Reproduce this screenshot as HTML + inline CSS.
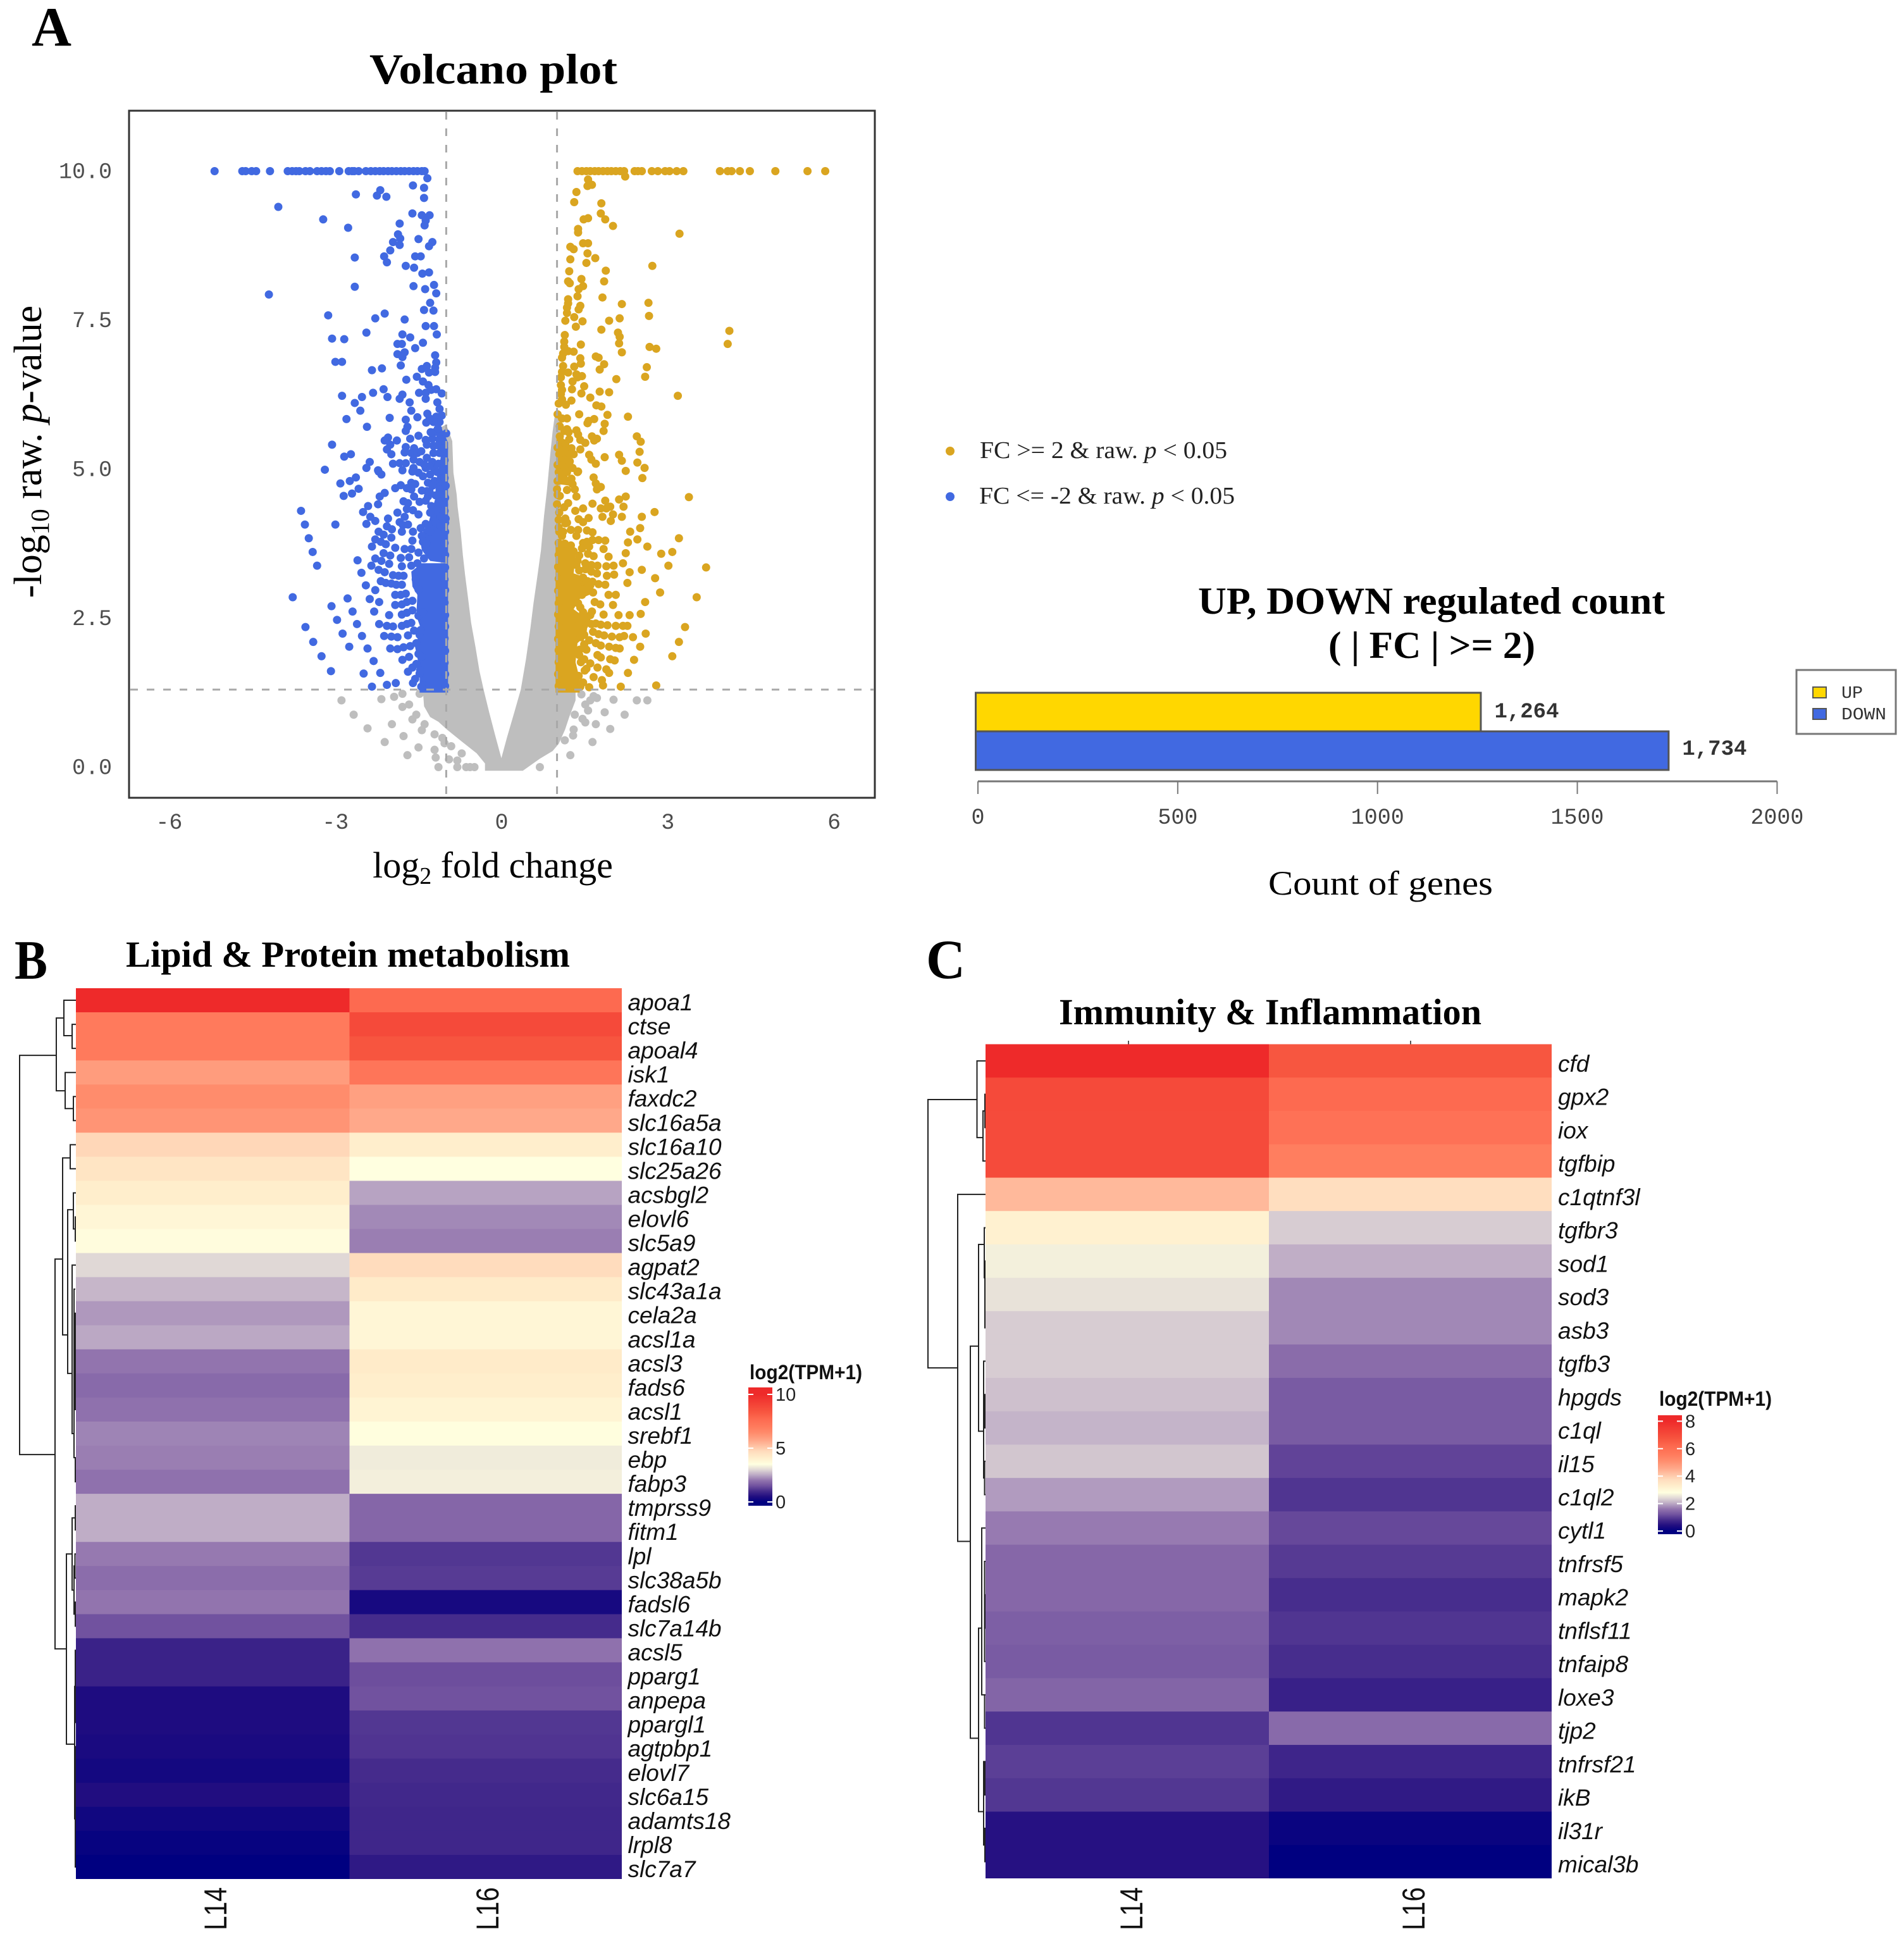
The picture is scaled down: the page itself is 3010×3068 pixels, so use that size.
<!DOCTYPE html>
<html lang="en">
<head>
<meta charset="utf-8">
<title>Volcano plot and heatmaps</title>
<style>
html,body{margin:0;padding:0;background:#fff}
svg{display:block}
.serif{font-family:"Liberation Serif",serif}
.sans{font-family:"Liberation Sans",sans-serif}
.mono{font-family:"Liberation Mono",monospace}
</style>
</head>
<body>
<svg id="figure" xmlns="http://www.w3.org/2000/svg" width="3010" height="3068" viewBox="0 0 3010 3068">
<rect x="0" y="0" width="3010" height="3068" fill="#fff"/>
<defs id="defs"></defs>

<text class="serif" x="50" y="72" font-size="88" font-weight="bold" textLength="63" lengthAdjust="spacingAndGlyphs">A</text>
<text class="serif" x="584" y="132" font-size="68" font-weight="bold" textLength="392" lengthAdjust="spacingAndGlyphs">Volcano plot</text>

<g id="volcano"></g>
<rect x="204" y="175" width="1179" height="1086" fill="none" stroke="#333" stroke-width="3"/>
<g id="volcano-axes"></g>

<text class="serif" transform="translate(65,714) rotate(-90)" text-anchor="middle" font-size="62">-log<tspan font-size="41" dy="12">10</tspan><tspan dy="-12"> raw. </tspan><tspan font-style="italic">p</tspan>-value</text>
<text class="serif" x="779" y="1387" text-anchor="middle" font-size="58">log<tspan font-size="38" dy="10">2</tspan><tspan dy="-10"> fold change</tspan></text>

<g>
  <circle cx="1502" cy="713" r="7" fill="#daa520"/>
  <text class="serif" x="1549" y="724" font-size="38" fill="#222" textLength="391" lengthAdjust="spacingAndGlyphs">FC &gt;= 2 &amp; raw. <tspan font-style="italic">p</tspan> &lt; 0.05</text>
  <circle cx="1502" cy="785" r="7" fill="#4169e1"/>
  <text class="serif" x="1548" y="796" font-size="38" fill="#222" textLength="404" lengthAdjust="spacingAndGlyphs">FC &lt;= -2 &amp; raw. <tspan font-style="italic">p</tspan> &lt; 0.05</text>
</g>

<text class="serif" x="1894" y="970" font-size="60" font-weight="bold" textLength="738" lengthAdjust="spacingAndGlyphs">UP, DOWN regulated count</text>
<text class="serif" x="2100" y="1040" font-size="60" font-weight="bold" textLength="327" lengthAdjust="spacingAndGlyphs">( | FC | &gt;= 2)</text>
<g id="bars"></g>
<text class="serif" x="2005" y="1414" font-size="54" textLength="355" lengthAdjust="spacingAndGlyphs">Count of genes</text>
<g>
  <rect x="2840" y="1059" width="157" height="101" fill="#fff" stroke="#777" stroke-width="3"/>
  <rect x="2866" y="1086" width="21" height="17" fill="#ffd700" stroke="#555" stroke-width="2"/>
  <text class="mono" x="2911" y="1103" font-size="27" fill="#333" textLength="34" lengthAdjust="spacingAndGlyphs">UP</text>
  <rect x="2866" y="1120" width="21" height="17" fill="#4169e1" stroke="#555" stroke-width="2"/>
  <text class="mono" x="2911" y="1137" font-size="27" fill="#333" textLength="71" lengthAdjust="spacingAndGlyphs">DOWN</text>
</g>

<text class="serif" x="23" y="1547" font-size="88" font-weight="bold" textLength="52" lengthAdjust="spacingAndGlyphs">B</text>
<text class="serif" x="199" y="1528" font-size="58" font-weight="bold" textLength="702" lengthAdjust="spacingAndGlyphs">Lipid &amp; Protein metabolism</text>
<g id="heat-b"></g>

<text class="serif" x="1464" y="1546" font-size="88" font-weight="bold" textLength="62" lengthAdjust="spacingAndGlyphs">C</text>
<text class="serif" x="1674" y="1619" font-size="58" font-weight="bold" textLength="668" lengthAdjust="spacingAndGlyphs">Immunity &amp; Inflammation</text>
<line x1="1784" y1="1645" x2="1784" y2="1651" stroke="#555" stroke-width="2"/>
<line x1="2230" y1="1645" x2="2230" y2="1651" stroke="#555" stroke-width="2"/>
<g id="heat-c"></g>
</svg>

<script>
/* ---------- Volcano data: log2 fold change / -log10 p ---------- */
const cappedLog10P = 10;
const downCappedFC = [-5.18,-4.68,-4.62,-4.51,-4.43,-4.18,-3.86,-3.78,-3.71,-3.65,-3.54,-3.46,-3.33,-3.25,-3.17,-3.10,-2.93,-2.76,-2.70,-2.66,-2.58,-2.45,-2.36,-2.28,-2.20,-2.13,-2.05,-1.98,-1.90,-1.82,-1.75,-1.67,-1.59,-1.52,-1.44,-1.39];
const upCappedFC = [1.37,1.45,1.53,1.60,1.68,1.75,1.83,1.91,1.98,2.06,2.14,2.21,2.40,2.46,2.53,2.71,2.82,2.95,3.03,3.16,3.28,3.94,4.08,4.15,4.30,4.48,4.94,5.52,5.84];
const downPoints = [
[-1.34,9.88],[-1.60,9.76],[-1.40,9.72],[-2.19,9.68],[-2.25,9.59],[-2.08,9.57],[-2.63,9.61],[-1.40,9.55],[-4.03,9.40],[-1.61,9.29],[-1.44,9.26],[-1.30,9.26],[-1.37,9.17],[-3.22,9.19],[-1.84,9.12],[-1.39,9.09],[-2.77,9.05],[-1.87,8.94],[-1.83,8.87],[-1.50,8.86],[-1.96,8.81],[-1.25,8.81],[-1.84,8.76],[-1.31,8.74],[-2.01,8.67],[-2.12,8.57],[-1.56,8.57],[-1.46,8.57],[-2.65,8.55],[-2.07,8.47],[-1.73,8.41],[-1.58,8.38],[-1.43,8.28],[-1.31,8.30],[-1.59,8.07],[-1.22,8.09],[-2.65,8.06],[-1.38,8.02],[-1.18,7.95],[-4.20,7.93],[-1.29,7.79],[-1.40,7.67],[-1.23,7.66],[-3.13,7.58],[-2.11,7.61],[-2.28,7.53],[-1.75,7.51],[-1.37,7.40],[-1.22,7.40],[-1.17,7.26],[-2.44,7.29],[-3.06,7.19],[-2.84,7.18],[-1.79,7.26],[-1.65,7.21],[-1.88,7.10],[-1.80,7.10],[-1.42,7.12],[-1.56,7.03],[-1.75,6.96],[-1.88,6.93],[-1.79,6.88],[-1.20,6.91],[-3.00,6.80],[-2.88,6.80],[-1.82,6.74],[-1.18,6.79],[-1.44,6.68],[-1.35,6.73],[-2.34,6.66],[-2.16,6.69],[-1.31,6.62],[-1.20,6.63],[-1.20,6.70],[-1.72,6.50],[-1.53,6.55],[-1.42,6.47],[-1.32,6.41],[-2.13,6.34],[-2.32,6.28],[-2.88,6.23],[-2.52,6.21],[-2.06,6.21],[-2.65,6.11],[-1.79,6.25],[-1.84,6.18],[-1.49,6.28],[-1.37,6.28],[-1.37,6.18],[-1.27,6.33],[-1.18,6.34],[-1.08,6.27],[-1.66,6.12],[-1.16,6.12],[-2.55,5.98],[-1.63,5.98],[-1.12,6.01],[-1.52,5.87],[-1.34,5.93],[-1.08,5.90],[-1.18,5.88],[-2.02,5.86],[-2.80,5.84],[-1.73,5.83],[-1.12,5.79],[-1.23,5.79],[-1.36,5.78],[-2.43,5.71],[-1.70,5.71],[-1.73,5.64],[-1.00,5.60],[-1.21,5.62],[-1.50,5.56],[-1.65,5.51],[-2.05,5.53],[-1.89,5.48],[-2.11,5.48],[-1.37,5.49],[-1.25,5.51],[-1.12,5.51],[-3.06,5.41],[-2.01,5.41],[-1.23,5.39],[-1.35,5.41],[-1.73,5.37],[-1.58,5.35],[-2.07,5.33],[-2.72,5.25],[-2.84,5.21],[-1.99,5.25],[-1.75,5.28],[-1.63,5.27],[-1.52,5.27],[-1.12,5.27],[-1.23,5.27],[-1.35,5.19],[-1.59,5.16],[-1.48,5.12],[-2.38,5.12],[-1.96,5.09],[-1.84,5.10],[-1.73,5.10],[-1.25,5.12],[-1.14,5.09],[-2.44,5.02],[-2.23,4.98],[-3.19,4.99],[-1.59,5.02],[-1.37,5.02],[-1.21,5.00],[-1.06,5.02],
[-2.91,4.76],[-2.74,4.80],[-2.63,4.86],[-2.58,4.67],[-2.70,4.59],[-2.85,4.55],[-2.22,4.96],[-2.17,4.91],[-1.50,4.94],[-1.61,4.96],[-1.79,4.98],[-1.29,4.91],[-1.16,4.95],[-1.06,4.98],[-1.21,4.80],[-1.33,4.77],[-1.10,4.84],[-1.01,4.72],[-1.63,4.77],[-1.56,4.75],[-1.82,4.73],[-1.92,4.68],[-1.71,4.68],[-1.63,4.66],[-1.44,4.64],[-1.35,4.63],[-1.12,4.66],[-1.04,4.56],[-1.19,4.56],[-1.33,4.54],[-2.11,4.60],[-2.20,4.54],[-2.23,4.41],[-1.58,4.54],[-1.48,4.45],[-1.37,4.47],[-1.77,4.46],[-1.69,4.43],[-2.41,4.38],[-2.50,4.28],[-3.62,4.30],[-1.88,4.27],[-1.71,4.33],[-1.60,4.31],[-1.50,4.24],[-1.27,4.38],[-1.12,4.45],[-1.04,4.40],[-1.18,4.31],[-1.29,4.27],[-1.10,4.20],[-1.01,4.17],[-2.37,4.20],[-2.28,4.13],[-2.44,4.08],[-2.05,4.17],[-1.75,4.20],[-1.84,4.11],[-1.69,4.07],[-1.78,4.06],[-3.55,4.07],[-3.00,4.07],[-2.07,4.04],[-1.98,3.99],[-1.80,3.95],[-1.60,3.95],[-1.46,4.01],[-1.37,4.08],[-1.19,4.10],[-1.10,4.04],[-1.02,4.10],[-2.22,3.95],[-2.13,3.90],[-1.99,3.85],[-3.48,3.84],[-2.28,3.82],[-2.18,3.78],[-2.09,3.74],[-1.61,3.80],[-1.44,3.88],[-1.42,3.78],[-1.29,3.95],[-2.34,3.70],[-1.92,3.68],[-1.75,3.66],[-1.63,3.66],[-3.41,3.61],[-2.13,3.59],[-2.01,3.55],[-2.28,3.50],[-2.17,3.46],[-2.03,3.41],[-1.82,3.51],[-1.67,3.52],[-2.60,3.47],[-1.52,3.42],[-3.33,3.38],[-2.35,3.38],[-1.80,3.37],[-1.63,3.38],[-2.22,3.31],[-2.11,3.27],[-2.53,3.26],[-1.96,3.22],[-1.86,3.21],[-1.77,3.21],
[-2.18,3.12],[-2.09,3.09],[-1.99,3.08],[-1.90,3.06],[-1.80,3.06],[-2.45,3.05],[-2.28,2.97],[-1.92,2.89],[-1.82,2.89],[-1.73,2.91],[-3.77,2.85],[-2.78,2.83],[-2.38,2.82],[-2.21,2.77],[-3.07,2.70],[-1.92,2.72],[-1.80,2.73],[-1.71,2.77],[-1.61,2.79],[-2.69,2.61],[-2.30,2.61],[-2.03,2.55],[-1.80,2.56],[-1.71,2.59],[-1.61,2.63],[-1.50,2.54],[-2.97,2.47],[-2.61,2.40],[-2.21,2.40],[-2.07,2.37],[-1.96,2.36],[-1.80,2.37],[-1.71,2.40],[-1.63,2.42],[-3.54,2.35],[-2.87,2.24],[-2.52,2.20],[-2.12,2.20],[-1.99,2.19],[-1.88,2.18],[-1.69,2.21],[-1.58,2.29],[-1.48,2.22],[-3.40,2.10],[-2.75,2.02],[-2.42,1.99],[-2.01,1.99],[-1.88,1.98],[-1.77,2.01],[-1.65,2.03],[-1.54,2.08],[-3.25,1.86],[-1.79,1.80],[-1.67,1.85],[-1.50,1.90],[-2.31,1.78],[-1.69,1.60],[-1.61,1.67],[-1.54,1.73],[-3.08,1.61],[-2.49,1.57],[-2.19,1.58],[-1.48,1.57],[-1.56,1.48],[-1.60,1.41],[-1.40,1.37],[-1.91,1.41],[-2.07,1.38],[-2.34,1.35],
[-1.02,1.36],[-1.02,1.56],[-1.03,1.75],[-1.02,1.95],[-1.03,2.16],[-1.02,2.36],[-1.02,2.55],[-1.03,2.76],[-1.02,2.97],[-1.03,3.15],[-1.02,3.35],[-1.02,3.56],[-1.03,3.76],[-1.02,3.95],[-1.03,4.30],[-1.02,4.52],[-1.03,4.85],[-1.03,5.15],[-1.04,5.35],
[-1.45,1.35],[-1.47,1.62],[-1.44,1.85],[-1.46,2.30],[-1.42,2.60],[-1.50,2.98],[-1.55,3.15],[-1.40,3.50],[-1.50,3.60],[-1.36,3.75],[-1.30,4.62],[-1.25,4.72],[-1.42,4.88],[-1.30,5.05],[-1.45,5.30],[-1.40,5.08],[-1.15,5.40],[-1.28,5.62],[-1.15,5.68],[-1.30,5.85]
];
const upPoints = [
[2.23,9.91],[1.56,9.86],[1.63,9.77],[1.55,9.75],[1.35,9.65],[1.31,9.48],[1.80,9.46],[1.79,9.29],[1.87,9.19],[2.01,9.08],[1.56,9.21],[1.48,9.19],[1.38,9.03],[1.38,8.97],[3.21,8.95],[1.47,8.79],[1.56,8.79],[1.24,8.73],[1.30,8.69],[1.55,8.62],[1.69,8.54],[1.24,8.52],[1.53,8.46],[2.72,8.41],[1.22,8.32],[1.88,8.33],[1.44,8.19],[1.85,8.15],[1.20,8.15],[1.23,8.12],[1.47,8.07],[1.39,8.02],[1.37,7.90],[1.20,7.85],[1.82,7.88],[2.17,7.77],[2.65,7.79],[1.20,7.78],[1.18,7.71],[1.42,7.74],[1.39,7.68],[1.18,7.62],[1.31,7.55],[2.66,7.57],[2.13,7.53],[1.15,7.49],[1.46,7.48],[1.94,7.49],[1.34,7.39],[1.80,7.34],[4.11,7.32],[1.14,7.25],[2.10,7.29],[2.13,7.22],[2.12,7.11],[4.08,7.10],[1.43,7.09],[1.13,7.14],[1.13,7.05],[2.67,7.05],[2.79,7.02],[1.20,6.98],[1.30,6.97],[2.17,6.96],[1.11,6.94],[1.70,6.89],[1.75,6.87],[1.42,6.86],[1.09,6.87],[1.43,6.77],[1.85,6.76],[1.11,6.73],[1.31,6.72],[2.62,6.71],[1.77,6.67],[1.09,6.63],[1.20,6.62],[1.35,6.59],[1.45,6.56],[1.37,6.54],[2.59,6.55],[2.07,6.51],[1.07,6.54],[1.28,6.47],[1.07,6.41],[1.49,6.39],[1.27,6.34],[1.09,6.33],[1.77,6.30],[1.94,6.29],[1.44,6.27],[1.07,6.26],[3.18,6.23],[1.60,6.20],[1.26,6.15],[1.09,6.17],[1.16,6.08],[1.03,6.10],[1.71,6.07],[1.80,6.05],[1.01,5.92],[1.40,5.92],[1.91,5.91],[2.28,5.88],[1.18,5.85],[1.09,5.85],[1.67,5.84],[1.57,5.81],[1.55,5.77],[1.86,5.76],[1.05,5.72],[1.18,5.67],[1.84,5.64],[1.35,5.65],[1.21,5.62],[1.13,5.64],[1.38,5.58],[1.63,5.55],[2.44,5.55],[1.72,5.51],[1.67,5.48],[1.42,5.49],[2.51,5.46],[1.51,5.44],[1.07,5.46],[1.15,5.42],[1.26,5.35],[1.01,5.36],[1.42,5.33],[1.13,5.32],[2.49,5.29],[1.58,5.24],[1.86,5.20],[2.12,5.24],[1.09,5.19],[1.62,5.16],[2.17,5.14],[1.23,5.13],[2.45,5.11],[1.70,5.09],[1.01,5.07],[1.11,5.07],[2.58,5.02],[1.28,5.02],[1.38,4.96],[2.24,4.97],
[1.18,4.95],[1.37,4.95],[1.11,4.84],[1.26,4.84],[1.01,4.80],[1.66,4.86],[2.54,4.85],[1.70,4.76],[1.79,4.70],[1.72,4.66],[1.32,4.66],[1.00,4.66],[1.35,4.54],[1.01,4.57],[2.24,4.54],[3.38,4.53],[2.12,4.49],[1.87,4.47],[1.64,4.42],[1.20,4.43],[1.00,4.41],[1.13,4.36],[2.20,4.37],[1.96,4.37],[1.79,4.34],[1.89,4.34],[1.47,4.34],[1.33,4.30],[2.76,4.28],[1.04,4.27],[2.01,4.24],[1.82,4.20],[2.17,4.20],[2.53,4.20],[1.57,4.18],[1.39,4.16],[1.15,4.17],[1.97,4.13],[1.47,4.11],[1.15,4.09],[1.03,4.02],[2.50,4.01],[1.38,3.98],[1.54,3.97],[1.64,3.94],[2.32,3.95],[1.11,3.95],[1.35,3.88],[1.09,3.88],[3.20,3.84],[2.45,3.82],[1.64,3.81],[1.75,3.81],[1.87,3.80],[1.54,3.78],[2.28,3.77],[1.47,3.76],[2.63,3.70],[1.45,3.67],[1.58,3.70],[1.84,3.66],[2.24,3.59],[3.08,3.61],[2.88,3.58],[1.56,3.58],[1.66,3.54],[1.93,3.53],[2.19,3.42],[3.01,3.38],[1.37,3.46],[1.35,3.39],[1.51,3.42],[1.62,3.39],[1.73,3.38],[1.89,3.37],[2.02,3.38],[3.69,3.35],[2.53,3.31],[2.31,3.27],[1.51,3.32],[1.62,3.28],[1.72,3.25],[1.90,3.21],[2.03,3.23],[2.77,3.17],[1.47,3.18],[1.64,3.11],[1.75,3.07],[1.87,3.06],[2.27,3.09],[1.49,3.05],[1.56,3.00],[1.65,2.93],[2.86,2.93],[1.93,2.89],[2.06,2.89],[3.52,2.85],[1.45,2.89],[1.68,2.77],[1.78,2.73],[2.59,2.77],[2.01,2.72],[1.42,2.68],[1.63,2.61],[1.84,2.56],[2.11,2.55],[2.31,2.55],[2.51,2.57],[1.49,2.54],[1.53,2.47],[1.70,2.41],[1.79,2.39],[1.91,2.38],[2.06,2.37],[2.19,2.37],[2.27,2.37],[3.31,2.35],[1.49,2.38],[1.65,2.27],[1.75,2.23],[1.85,2.21],[1.99,2.19],[2.13,2.18],[2.21,2.20],[2.37,2.18],[2.60,2.24],[1.49,2.22],[3.20,2.10],[1.58,2.13],[1.70,2.08],[1.79,2.04],[1.94,2.02],[2.06,2.00],[2.13,1.99],[2.50,2.02],[1.49,2.06],[1.53,1.97],[1.73,1.88],[1.79,1.84],[1.96,1.81],[2.04,1.79],[2.39,1.80],[3.08,1.86],[1.41,1.97],[1.49,1.81],[1.60,1.74],[1.73,1.67],[1.89,1.64],[1.94,1.58],[2.28,1.58],[1.43,1.76],[1.53,1.65],[1.66,1.51],[1.81,1.46],[1.83,1.37],[2.15,1.35],[2.79,1.37],[1.58,1.34],[1.47,1.42],[1.39,1.53],[1.36,1.34],
[1.03,1.36],[1.02,1.56],[1.03,1.76],[1.03,1.96],[1.02,2.15],[1.03,2.36],[1.02,2.56],[1.03,2.75],[1.02,2.96],[1.03,3.16],[1.02,3.36],[1.03,3.56],[1.03,3.76],[1.04,3.95],[1.03,4.15],[1.05,4.55],[1.03,4.95],[1.04,5.25],[1.05,5.55],
[1.18,4.10],[1.25,3.98],[1.14,3.75],[1.25,3.72],[1.30,3.62],[1.40,3.55],[1.40,3.30],[1.55,3.12],[1.60,3.05],[1.46,2.98],[1.38,2.75],[1.47,2.60],[1.40,2.42],[1.60,2.55],[1.62,2.40],[1.43,2.18],[1.40,1.88],[1.50,1.62],[1.42,1.35],[1.18,4.65],[1.28,4.75],[1.20,5.15],[1.30,5.25],[1.22,5.50]
];
const nsPoints = [
[-2.89,1.12],[-2.17,1.14],[-1.94,1.18],[-1.79,1.23],[-1.48,1.23],[-1.67,1.05],[-1.79,1.01],[-2.67,0.88],[-1.54,0.88],[-1.61,0.80],[-1.98,0.72],[-1.39,0.72],[-1.44,0.62],[-2.42,0.65],[-1.21,0.55],[-1.77,0.52],[-1.07,0.49],[-2.11,0.42],[-1.03,0.40],[-0.91,0.35],[-1.50,0.33],[-1.21,0.29],[-0.72,0.23],[-1.70,0.20],[-1.19,0.16],[-0.95,0.13],[-0.80,0.11],[-1.14,0],[-0.80,0],[-0.64,0],[-0.57,0],[-0.49,0],
[1.44,1.22],[1.66,1.19],[1.72,1.16],[1.60,1.12],[1.51,1.05],[1.56,0.95],[2.02,1.13],[2.44,1.12],[2.63,1.12],[1.86,0.92],[2.22,0.88],[1.32,0.88],[1.46,0.81],[1.51,0.75],[1.70,0.72],[1.96,0.64],[1.30,0.63],[1.29,0.53],[1.14,0.45],[1.64,0.42],[1.24,0.20],[0.69,0],[1.10,0.95],[1.18,1.08]
];
/* Solid density regions where individual dots are no longer separable */
const nsEnvelope = [[-1.0,5.75],[-0.89,5.47],[-0.87,4.94],[-0.81,4.57],[-0.795,4.37],[-0.74,3.97],[-0.70,3.56],[-0.66,3.23],[-0.605,2.83],[-0.55,2.42],[-0.47,2.01],[-0.40,1.61],[-0.32,1.28],[-0.225,0.92],[-0.11,0.51],[-0.004,0.15],[0.10,0.51],[0.23,0.92],[0.346,1.30],[0.44,1.81],[0.52,2.34],[0.575,2.75],[0.65,3.23],[0.71,3.64],[0.765,4.21],[0.82,4.66],[0.88,5.27],[0.92,5.63],[0.955,5.87],[1.05,5.87],[1.1,1.3],[1.335,1.3],[1.335,1.12],[1.22,0.84],[1.145,0.63],[1.03,0.39],[0.92,0.27],[0.69,0.14],[0.384,-0.06],[-0.30,-0.06],[-0.30,0.06],[-0.45,0.23],[-0.72,0.43],[-0.985,0.63],[-1.14,0.76],[-1.29,0.84],[-1.40,1.02],[-1.42,1.27],[-1.1,1.3],[-1.1,5.7]];
const downDenseLower = [[-0.967,1.25],[-0.967,3.42],[-1.44,3.42],[-1.63,3.28],[-1.61,3.03],[-1.52,2.89],[-1.54,2.54],[-1.46,2.33],[-1.56,2.01],[-1.48,1.65],[-1.48,1.25]];
const downDenseUpper = [[-0.967,3.42],[-0.967,5.45],[-1.1,5.72],[-1.2,5.5],[-1.1,5.2],[-1.18,4.8],[-1.2,4.5],[-1.31,4.13],[-1.48,3.85],[-1.44,3.64],[-1.29,3.46]];
const upDense = [[0.974,1.25],[0.974,3.74],[1.28,3.74],[1.335,3.53],[1.30,3.25],[1.53,3.18],[1.68,2.93],[1.41,2.82],[1.30,2.65],[1.56,2.47],[1.53,2.22],[1.37,2.08],[1.335,1.76],[1.41,1.48],[1.41,1.25]];
const upDenseUpper = [[0.99,4.75],[0.99,5.5],[1.2,5.5],[1.26,5.2],[1.18,4.9],[1.25,4.72]];
const foldChangeCutoffs = [-1, 1];
const pValueCutoff = 1.301;
const xTicks = [-6,-3,0,3,6];
const xTickLabels = ['-6','-3','0','3','6'];
const yTicks = [0,2.5,5,7.5,10];
const yTickLabels = ['0.0','2.5','5.0','7.5','10.0'];

/* ---------- Bar chart data ---------- */
const barCategories = ['UP','DOWN'];
const barCounts = [1264,1734];
const barValueLabels = ['1,264','1,734'];
const barTicks = [0,500,1000,1500,2000];
const barTickLabels = ['0','500','1000','1500','2000'];

/* ---------- Heatmap B data ---------- */
const heatColumns = ['L14','L16'];
const heatBGenes = ['apoa1','ctse','apoal4','isk1','faxdc2','slc16a5a','slc16a10','slc25a26','acsbgl2','elovl6','slc5a9','agpat2','slc43a1a','cela2a','acsl1a','acsl3','fads6','acsl1','srebf1','ebp','fabp3','tmprss9','fitm1','lpl','slc38a5b','fadsl6','slc7a14b','acsl5','pparg1','anpepa','ppargl1','agtpbp1','elovl7','slc6a15','adamts18','lrpl8','slc7a7'];
const heatBL14 = [10,7.0,7.0,6.0,6.4,6.2,4.8,4.4,4.1,3.8,3.6,3.0,2.65,2.35,2.5,2.0,1.85,1.95,2.15,2.1,1.95,2.55,2.55,2.05,1.9,2.0,1.5,0.85,0.85,0.45,0.45,0.4,0.3,0.5,0.25,0.1,0];
const heatBL16 = [7.7,8.8,8.4,7.2,5.9,5.7,4.1,3.5,2.45,2.2,2.1,4.7,4.2,3.8,3.8,4.2,4.1,3.9,3.55,3.25,3.3,1.8,1.8,1.15,1.2,0.35,1.0,1.95,1.45,1.5,1.15,1.12,1.0,0.95,0.92,0.92,0.7];
const heatBLegendTicks = [0,5,10];

/* ---------- Heatmap C data ---------- */
const heatCGenes = ['cfd','gpx2','iox','tgfbip','c1qtnf3l','tgfbr3','sod1','sod3','asb3','tgfb3','hpgds','c1ql','il15','c1ql2','cytl1','tnfrsf5','mapk2','tnflsf11','tnfaip8','loxe3','tjp2','tnfrsf21','ikB','il31r','mical3b'];
const heatCL14 = [8.0,7.05,7.0,7.0,4.3,3.2,2.65,2.5,2.3,2.3,2.2,2.1,2.25,1.9,1.65,1.45,1.45,1.35,1.3,1.42,0.9,1.0,0.92,0.45,0.45];
const heatCL16 = [6.7,6.15,5.9,5.5,3.7,2.3,2.05,1.75,1.75,1.5,1.3,1.3,1.05,0.9,1.1,0.95,0.82,0.9,0.82,0.65,1.48,0.72,0.57,0.12,0];
const heatCLegendTicks = [0,2,4,6,8];

/* Dendrogram merges: [height, upper row, upper child height, lower row, lower child height] */
const dendroB = [[89,2.29,31,18.87,33],[31,0.74,19,3.76,17],[19,0,0,1.47,6],[6,1,0,2,0],[17,3,0,4.5,4],[4,4,0,5,0],[33,10.75,21,26.94,15],[21,6.55,9,13.9,13],[9,6,0,7,0],[13,8.7,4,15.5,6],[4,8,0,9.5,1],[1,9,0,10,0],[6,11,0,18,3],[3,12,1,19,1],[1,13,0,17,0],[2,14,0,16,0],[1,19,0,20,0],[15,23,6,30.9,2],[6,21.5,1,24.5,3],[1,21,0,22,0],[3,23.5,1.5,25.5,1],[1.5,23,0,24,0],[1,25,0,26,0],[2,28.5,1,34,1],[1,27,0,30,0],[1,31,0,36,0]];
const dendroC = [[91,1.16,13.5,9.2,44],[13.5,0,0,2.3,4],[4,1.5,1,3,0],[1,1,0,2,0],[44,4,0,14.4,24],[24,8.55,11,20.3,11],[11,5.5,2,11.1,3],[2,5,0,6.5,1],[1,6,0,8,0],[3,9,0,12.5,1.5],[1,10,0,11,0],[1.5,12,0,13,0],[11,17,6,22.5,3],[6,14,0,19,1.5],[1.5,15,0,18,0],[1,16,0,17,0],[1.5,19,0,20,0],[3,21,0,23.5,1],[1,23,0,24,0],[1,21,0,22,0]];

/* Colour ramp, t = value / scale maximum */
const rampOffsets = [0,0.05,0.10,0.15,0.20,0.25,0.30,0.35,0.42,0.47,0.57,0.64,0.70,0.77,0.84,0.88,1];
const rampColours = ['#000080','#210d80','#452b8c','#71529f','#9274ae','#bba8c4','#e0d8d6','#ffffe0','#ffebc9','#ffdcbd','#ffa88a','#ff8c6c','#ff7a5c','#fd6a50','#f7553f','#f54a3a','#ee2a2a'];

const NS = 'http://www.w3.org/2000/svg';
function make(tag, parent){ return parent.appendChild(document.createElementNS(NS, tag)); }

/* ---------- Volcano axes functions ---------- */
const xV = v => 793 + 87.6 * v;
const yV = v => 1212.5 - 94.2 * v;
const polyPoints = list => list.map(p => xV(p[0]).toFixed(1) + ',' + yV(p[1]).toFixed(1)).join(' ');
const DOT_R = 6.5;

const gV = document.getElementById('volcano');

const nsRegion = make('polygon', gV);
nsRegion.setAttribute('points', polyPoints(nsEnvelope));
nsRegion.setAttribute('fill', '#bebebe');



for (const p of nsPoints) {
  const c = make('circle', gV);
  c.setAttribute('cx', xV(p[0])); c.setAttribute('cy', yV(p[1])); c.setAttribute('r', DOT_R); c.setAttribute('fill', '#bebebe');
  
  
}
for (const list of [downDenseLower, downDenseUpper]) {
  const r = make('polygon', gV);
  r.setAttribute('points', polyPoints(list)); r.setAttribute('fill', '#4169e1');
  
  
}
for (const list of [upDense, upDenseUpper]) {
  const r = make('polygon', gV);
  r.setAttribute('points', polyPoints(list)); r.setAttribute('fill', '#daa520');
  
  
}

for (const p of downPoints) {
  const c = make('circle', gV);
  c.setAttribute('cx', xV(p[0])); c.setAttribute('cy', yV(p[1])); c.setAttribute('r', DOT_R); c.setAttribute('fill', '#4169e1');
  
  
}
for (const fc of downCappedFC) {
  const c = make('circle', gV);
  c.setAttribute('cx', xV(fc)); c.setAttribute('cy', yV(cappedLog10P)); c.setAttribute('r', DOT_R); c.setAttribute('fill', '#4169e1');
  
  
}
for (const p of upPoints) {
  const c = make('circle', gV);
  c.setAttribute('cx', xV(p[0])); c.setAttribute('cy', yV(p[1])); c.setAttribute('r', DOT_R); c.setAttribute('fill', '#daa520');
  
  
}
for (const fc of upCappedFC) {
  const c = make('circle', gV);
  c.setAttribute('cx', xV(fc)); c.setAttribute('cy', yV(cappedLog10P)); c.setAttribute('r', DOT_R); c.setAttribute('fill', '#daa520');
  
  
}

const gA = document.getElementById('volcano-axes');
for (const fc of foldChangeCutoffs) {
  const l = make('line', gA);
  l.setAttribute('x1', xV(fc)); l.setAttribute('x2', xV(fc)); l.setAttribute('y1', 177); l.setAttribute('y2', 1259);
  l.setAttribute('stroke', '#a8a8a8'); l.setAttribute('stroke-width', 3); l.setAttribute('stroke-dasharray', '12 14');
  
  
}
const pLine = make('line', gA);
pLine.setAttribute('x1', 206); pLine.setAttribute('x2', 1381); pLine.setAttribute('y1', yV(pValueCutoff)); pLine.setAttribute('y2', yV(pValueCutoff));
pLine.setAttribute('stroke', '#a8a8a8'); pLine.setAttribute('stroke-width', 3); pLine.setAttribute('stroke-dasharray', '12 14');



xTicks.forEach((v, i) => {
  const t = make('text', gA);
  t.setAttribute('x', xV(v)); t.setAttribute('y', 1310); t.setAttribute('text-anchor', 'middle');
  t.setAttribute('class', 'mono'); t.setAttribute('font-size', 35); t.setAttribute('fill', '#4d4d4d');
  t.textContent = xTickLabels[i];
  
  
});
yTicks.forEach((v, i) => {
  const t = make('text', gA);
  t.setAttribute('x', 177); t.setAttribute('y', yV(v) + 11); t.setAttribute('text-anchor', 'end');
  t.setAttribute('class', 'mono'); t.setAttribute('font-size', 35); t.setAttribute('fill', '#4d4d4d');
  t.textContent = yTickLabels[i];
  
  
});

/* ---------- Bar chart ---------- */
const xCount = v => 1546 + 0.6317 * v;
const barColours = ['#ffd700', '#4169e1'];
const barRowTop = i => 1095 + 61 * i;
const barLabelDy = [39, 37];
const gB = document.getElementById('bars');
barCategories.forEach((cat, i) => {
  const r = make('rect', gB);
  r.setAttribute('x', xCount(0) - 3.5); r.setAttribute('y', barRowTop(i));
  r.setAttribute('width', xCount(barCounts[i]) - xCount(0)); r.setAttribute('height', 61);
  r.setAttribute('fill', barColours[i]); r.setAttribute('stroke', '#555'); r.setAttribute('stroke-width', 3);
  
  
  const t = make('text', gB);
  t.setAttribute('x', xCount(barCounts[i]) + 18); t.setAttribute('y', barRowTop(i) + barLabelDy[i]);
  t.setAttribute('class', 'mono'); t.setAttribute('font-size', 34); t.setAttribute('font-weight', 'bold'); t.setAttribute('fill', '#333');
  t.textContent = barValueLabels[i];
  
  
});
const axisLine = make('line', gB);
axisLine.setAttribute('x1', xCount(barTicks[0])); axisLine.setAttribute('x2', xCount(barTicks[barTicks.length - 1]));
axisLine.setAttribute('y1', 1235); axisLine.setAttribute('y2', 1235);
axisLine.setAttribute('stroke', '#777'); axisLine.setAttribute('stroke-width', 3);


barTicks.forEach((v, i) => {
  const l = make('line', gB);
  l.setAttribute('x1', xCount(v)); l.setAttribute('x2', xCount(v)); l.setAttribute('y1', 1235); l.setAttribute('y2', 1255);
  l.setAttribute('stroke', '#777'); l.setAttribute('stroke-width', 2);
  
  
  const t = make('text', gB);
  t.setAttribute('x', xCount(v)); t.setAttribute('y', 1302); t.setAttribute('text-anchor', 'middle');
  t.setAttribute('class', 'mono'); t.setAttribute('font-size', 35); t.setAttribute('fill', '#444');
  t.textContent = barTickLabels[i];
  
  
});

/* ---------- Heatmaps ---------- */
function hexToRgb(h){ return [1,3,5].map(i => parseInt(h.substr(i,2),16)); }
function rampColour(t){
  t = Math.max(0, Math.min(1, t));
  for (let i = 1; i < rampOffsets.length; i++) {
    if (t <= rampOffsets[i]) {
      const f = (t - rampOffsets[i-1]) / (rampOffsets[i] - rampOffsets[i-1]);
      const a = hexToRgb(rampColours[i-1]), b = hexToRgb(rampColours[i]);
      return 'rgb(' + a.map((c, k) => Math.round(c + (b[k] - c) * f)).join(',') + ')';
    }
  }
  return rampColours[rampColours.length - 1];
}

function drawHeatmap(cfg){
  const g = document.getElementById(cfg.id);
  const rows = cfg.genes.length;
  const rowH = (cfg.bottom - cfg.top) / rows;
  const yRow = r => cfg.top + rowH * r;
  const colX = [cfg.left, cfg.mid, cfg.right];

  cfg.genes.forEach((gene, r) => {
    [cfg.l14, cfg.l16].forEach((series, c) => {
      const cell = make('rect', g);
      cell.setAttribute('x', colX[c]); cell.setAttribute('y', yRow(r));
      cell.setAttribute('width', colX[c+1] - colX[c] + (c === 0 ? 0.5 : 0));
      cell.setAttribute('height', rowH + (r < rows - 1 ? 0.5 : 0));
      cell.setAttribute('fill', rampColour(series[r] / cfg.max));
      
      
    });
    const label = make('text', g);
    label.setAttribute('x', cfg.labelX); label.setAttribute('y', yRow(r + 0.5) + cfg.labelDy);
    label.setAttribute('class', 'sans'); label.setAttribute('font-style', 'italic');
    label.setAttribute('font-size', cfg.labelSize); label.setAttribute('fill', '#111');
    label.textContent = gene;
    
    
  });

  heatColumns.forEach((name, c) => {
    const t = make('text', g);
    t.setAttribute('transform', 'translate(' + cfg.colBaseX[c] + ',3051) rotate(-90)');
    t.setAttribute('class', 'sans'); t.setAttribute('font-size', 50); t.setAttribute('fill', '#111');
    t.setAttribute('textLength', 68); t.setAttribute('lengthAdjust', 'spacingAndGlyphs');
    t.textContent = name;
    
    
  });

  const yLeaf = r => yRow(r + 0.5);
  const xTree = h => cfg.left - h;
  for (const m of cfg.tree) {
    const p = make('path', g);
    p.setAttribute('d', 'M' + xTree(m[2]) + ' ' + yLeaf(m[1]) + 'H' + xTree(m[0]) + 'V' + yLeaf(m[3]) + 'H' + xTree(m[4]));
    p.setAttribute('fill', 'none'); p.setAttribute('stroke', '#222'); p.setAttribute('stroke-width', 2);
    
    
  }

  /* colour legend */
  const yLegend = v => cfg.legendZero - cfg.legendUnit * v;
  const grad = make('linearGradient', document.getElementById('defs'));
  grad.setAttribute('id', cfg.id + '-ramp');
  grad.setAttribute('gradientUnits', 'userSpaceOnUse');
  grad.setAttribute('x1', 0); grad.setAttribute('x2', 0);
  grad.setAttribute('y1', yLegend(0)); grad.setAttribute('y2', yLegend(cfg.max));
  rampOffsets.forEach((o, i) => {
    const s = make('stop', grad);
    s.setAttribute('offset', o); s.setAttribute('stop-color', rampColours[i]);
  });
  const bar = make('rect', g);
  bar.setAttribute('x', cfg.legendX); bar.setAttribute('y', cfg.legendTop);
  bar.setAttribute('width', 38); bar.setAttribute('height', cfg.legendBottom - cfg.legendTop);
  bar.setAttribute('fill', 'url(#' + cfg.id + '-ramp)');
  
  
  for (const v of cfg.legendTicks) {
    for (const side of [0, 30]) {
      const tick = make('line', g);
      tick.setAttribute('x1', cfg.legendX + side); tick.setAttribute('x2', cfg.legendX + side + 8);
      tick.setAttribute('y1', yLegend(v)); tick.setAttribute('y2', yLegend(v));
      tick.setAttribute('stroke', '#fff'); tick.setAttribute('stroke-width', 2);
      
      
    }
    const t = make('text', g);
    t.setAttribute('x', cfg.legendX + 43); t.setAttribute('y', yLegend(v) + 10);
    t.setAttribute('class', 'sans'); t.setAttribute('font-size', 29); t.setAttribute('fill', '#222');
    t.textContent = String(v);
    
    
  }
  const title = make('text', g);
  title.setAttribute('x', cfg.legendX + 2); title.setAttribute('y', cfg.legendTitleY);
  title.setAttribute('class', 'sans'); title.setAttribute('font-size', 32); title.setAttribute('font-weight', 'bold'); title.setAttribute('fill', '#111');
  title.setAttribute('textLength', 178); title.setAttribute('lengthAdjust', 'spacingAndGlyphs');
  title.textContent = 'log2(TPM+1)';
  
  
}

drawHeatmap({id:'heat-b', genes:heatBGenes, l14:heatBL14, l16:heatBL16, max:10,
  left:120, mid:552.5, right:983, top:1562, bottom:2970, labelX:992.5, labelSize:37, labelDy:16,
  colBaseX:[358,788], tree:dendroB,
  legendX:1183, legendTop:2193, legendBottom:2380, legendZero:2374, legendUnit:17, legendTicks:heatBLegendTicks, legendTitleY:2180});

drawHeatmap({id:'heat-c', genes:heatCGenes, l14:heatCL14, l16:heatCL16, max:8,
  left:1558, mid:2006, right:2453, top:1650.5, bottom:2969, labelX:2463, labelSize:37, labelDy:17,
  colBaseX:[1806,2252], tree:dendroC,
  legendX:2621, legendTop:2237, legendBottom:2425, legendZero:2420, legendUnit:21.7, legendTicks:heatCLegendTicks, legendTitleY:2222});
</script>
</body>
</html>
